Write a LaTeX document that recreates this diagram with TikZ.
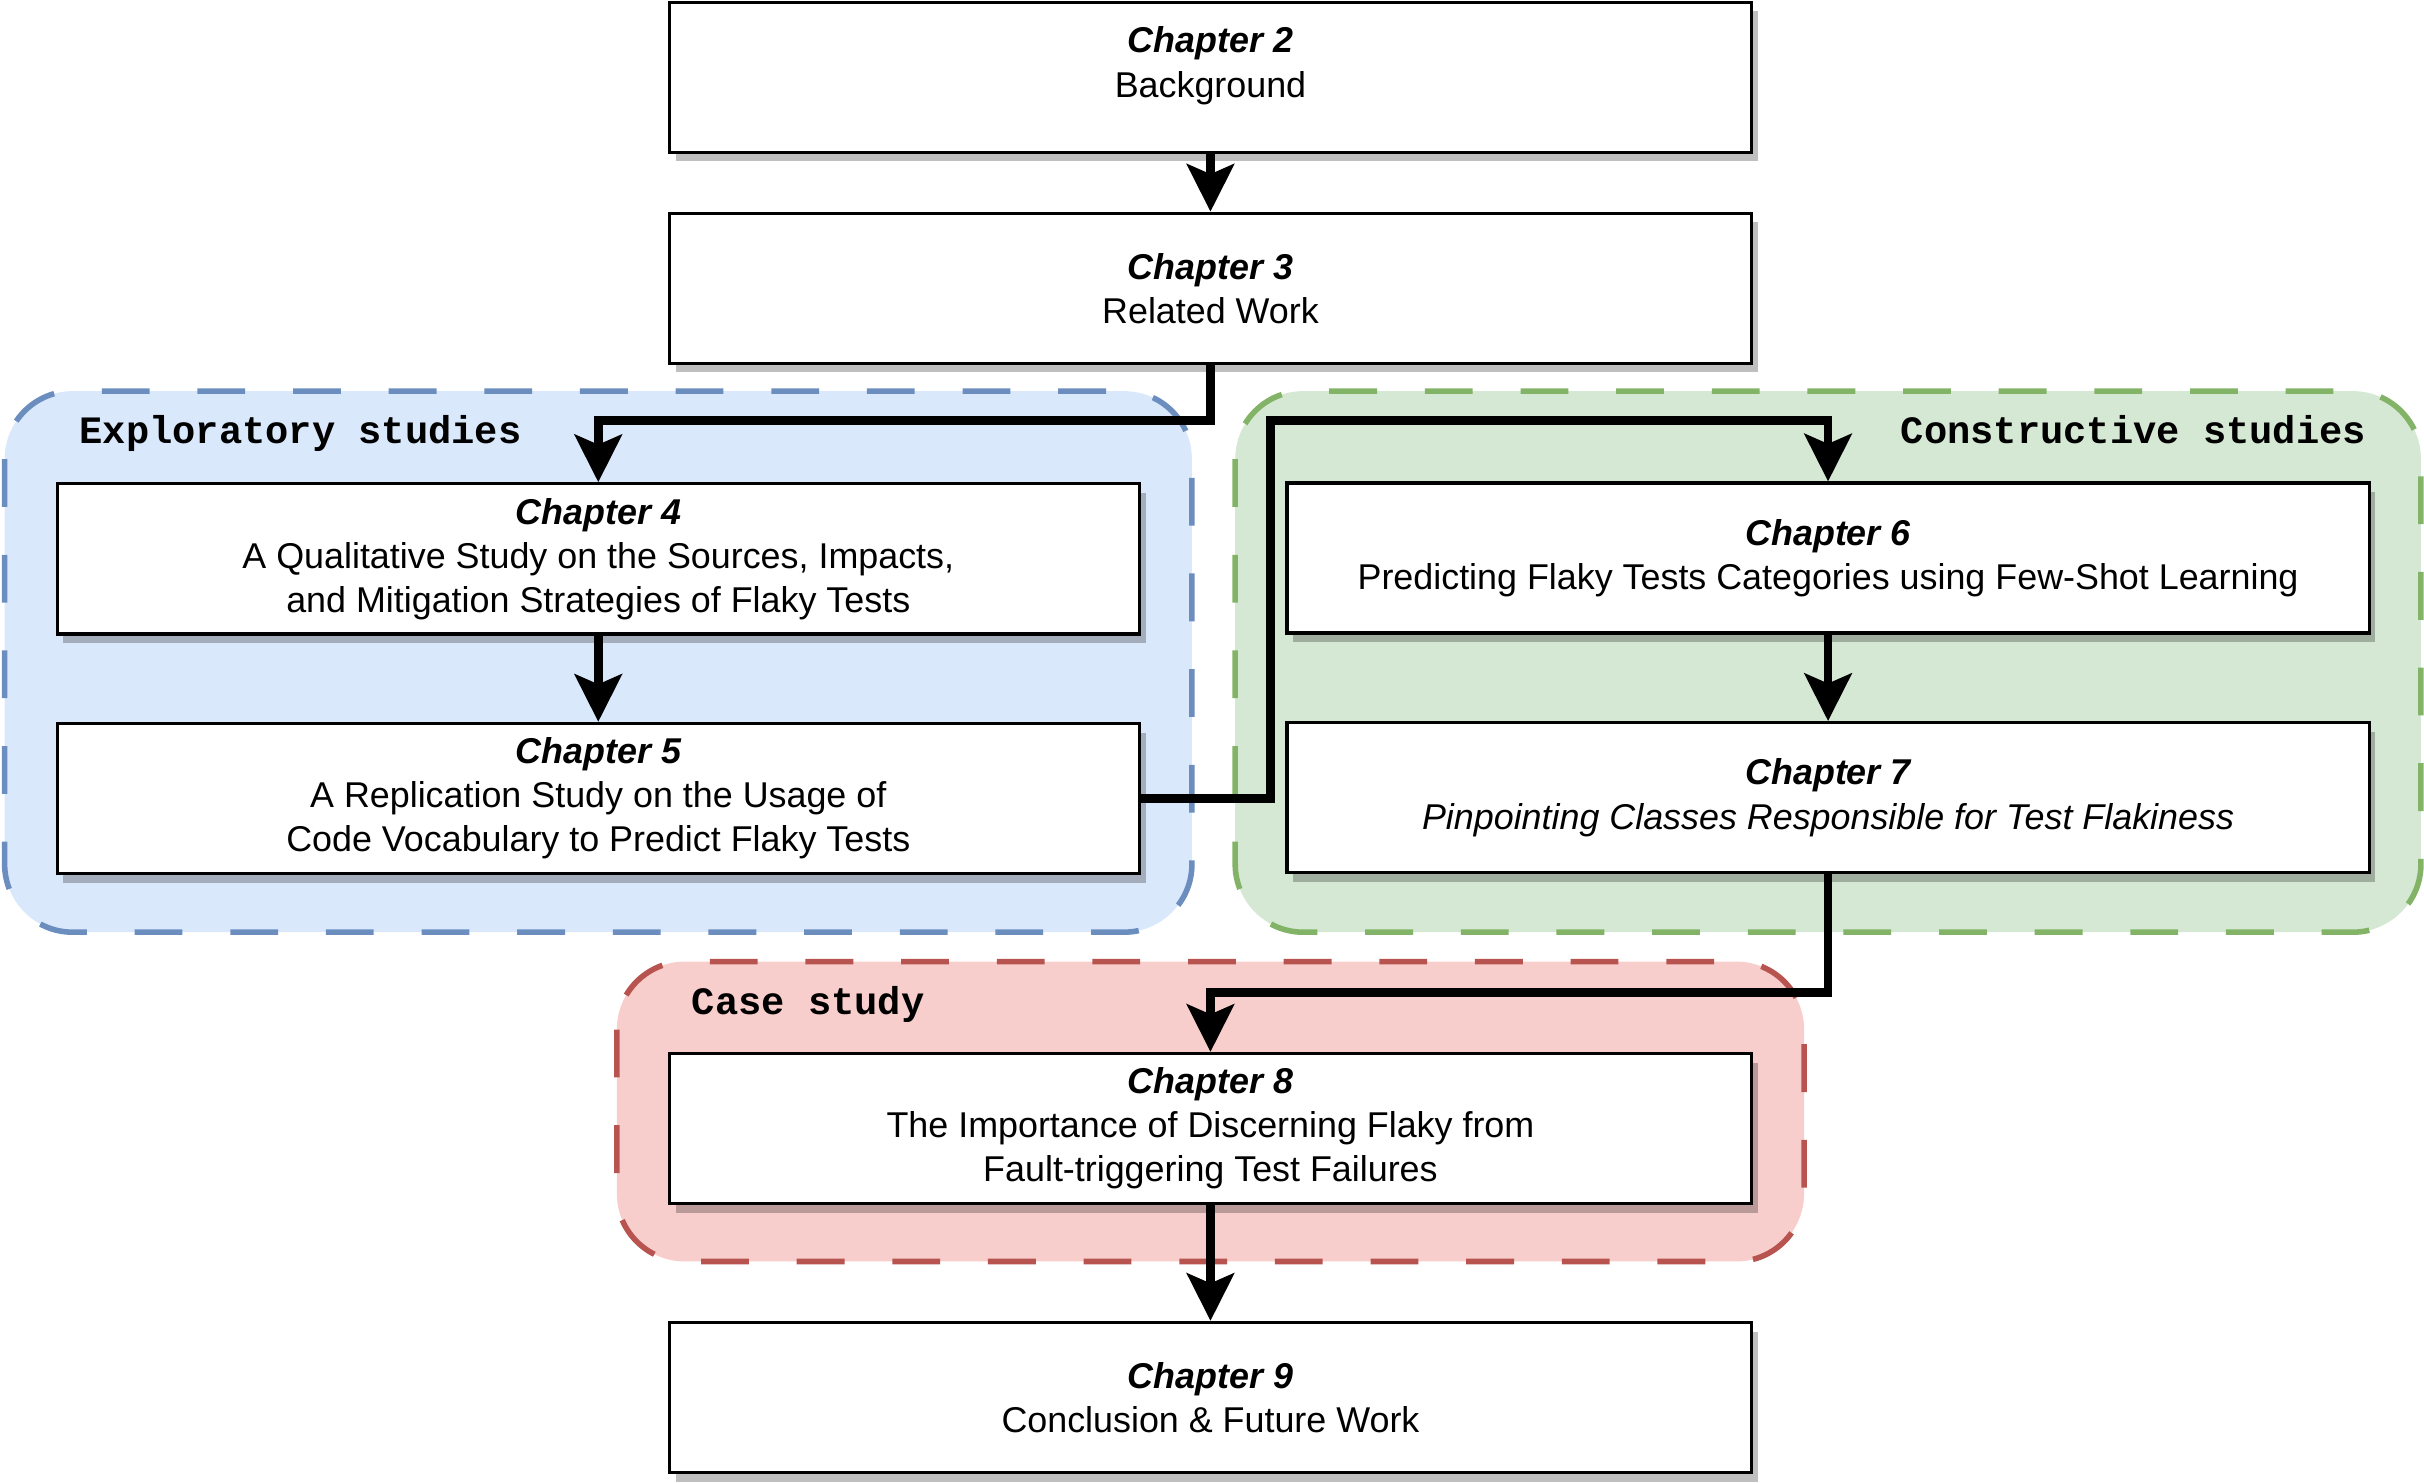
\documentclass[tikz,border=0pt]{standalone}
\usepackage{fontspec}
\setmainfont{Liberation Sans}
\setmonofont{Liberation Mono}
\usetikzlibrary{arrows.meta,shadows,positioning}

\definecolor{expfill}{HTML}{DAE8FC}
\definecolor{expline}{HTML}{6C8EBF}
\definecolor{consfill}{HTML}{D5E8D4}
\definecolor{consline}{HTML}{82B366}
\definecolor{casefill}{HTML}{F8CECC}
\definecolor{caseline}{HTML}{B85450}

\tikzset{
  chbox/.style={draw, line width=0.8pt, fill=white, minimum width=262.5pt,
    minimum height=36.4pt, align=center, inner sep=0pt,
    font=\fontsize{8.7}{10.7}\selectfont,
    drop shadow={shadow xshift=1.5pt, shadow yshift=-2.2pt, opacity=0.25, fill=black}},
  group/.style={line width=1.35pt, dash pattern=on 11.6pt off 11.6pt, rounded corners=16.5pt},
  grouplabel/.style={font=\fontsize{9.4}{11}\selectfont\ttfamily\bfseries, inner sep=0pt},
  flow/.style={line width=2.1pt, -{Stealth[length=11.5pt, width=11.4pt, inset=2.4pt]}}
}

\newcommand{\chap}[1]{{\bfseries\itshape Chapter #1}}

\begin{document}
\begin{tikzpicture}[x=0.375pt, y=-0.375pt]
\useasboundingbox (0,0) rectangle (1568,959);

% study groups
\draw[group, draw=expline, fill=expfill] (3,253) rectangle (771,603);
\draw[group, draw=consline, fill=consfill] (799,253) rectangle (1566,603);
\draw[group, draw=caseline, fill=casefill] (399,622) rectangle (1167,816);

\node[grouplabel, anchor=base west] (explabel) at (51,287) {Exploratory studies};
\node[grouplabel, anchor=base east] (conslabel) at (1531,287) {Constructive studies};
\node[grouplabel, anchor=base west] (caselabel) at (447,656) {Case study};

% chapters
\node[chbox, text depth=7.4pt] (ch2) at (783,50) {\chap{2}\\Background};
\node[chbox] (ch3) at (783,186.5) {\chap{3}\\Related Work};
\node[chbox] (ch4) at (387,361.5) {\chap{4}\\A Qualitative Study on the Sources, Impacts,\\and Mitigation Strategies of Flaky Tests};
\node[chbox] (ch5) at (387,516.5) {\chap{5}\\A Replication Study on the Usage of\\Code Vocabulary to Predict Flaky Tests};
\node[chbox] (ch6) at (1182.5,361) {\chap{6}\\Predicting Flaky Tests Categories using Few-Shot Learning};
\node[chbox] (ch7) at (1182.5,516) {\chap{7}\\{\itshape Pinpointing Classes Responsible for Test Flakiness}};
\node[chbox] (ch8) at (783,730) {\chap{8}\\The Importance of Discerning Flaky from\\Fault-triggering Test Failures};
\node[chbox] (ch9) at (783,904) {\chap{9}\\Conclusion \& Future Work};

% bends of the connectors
\coordinate (bendA) at (0,272);
\coordinate (bendB) at (822,272);
\coordinate (bendC) at (0,642);

% flow
\draw[flow] (ch2) -- (ch3);
\draw[flow] (ch3.south) |- (bendA -| ch4.north) -- (ch4.north);
\draw[flow] (ch4) -- (ch5);
\draw[flow] (ch5.east) -| (bendB) -- (bendB -| ch6.north) -- (ch6.north);
\draw[flow] (ch6) -- (ch7);
\draw[flow] (ch7.south) |- (bendC -| ch8.north) -- (ch8.north);
\draw[flow] (ch8) -- (ch9);

\end{tikzpicture}
\end{document}
